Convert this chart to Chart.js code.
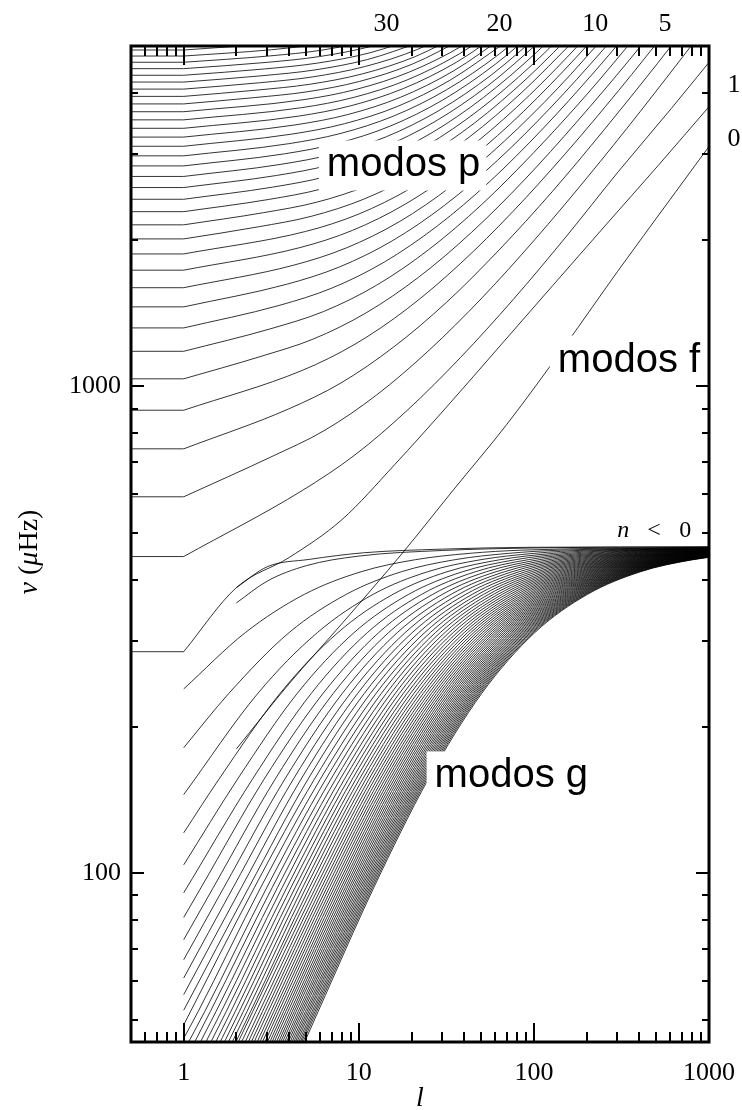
<!DOCTYPE html>
<html>
<head>
<meta charset="utf-8">
<script src="https://cdn.jsdelivr.net/npm/chart.js@4.4.1/dist/chart.umd.min.js"></script>
<style>
  html, body { margin: 0; padding: 0; background: #fff; }
  #wrap { position: relative; width: 742px; height: 1110px; }
</style>
</head>
<body>
<div id="wrap"><canvas id="modes"></canvas></div>
<script>
// eje x: grado l, eje y: frecuencia nu (microHz), ambos logaritmicos
const xMajorTicks = [1, 10, 100, 1000];
const xMinorTicks = [0.6, 0.7, 0.8, 0.9, 2, 3, 4, 5, 6, 7, 8, 9, 20, 30, 40, 50, 60, 70, 80, 90, 200, 300, 400, 500, 600, 700, 800, 900];
const yMajorTicks = [100, 1000];
const yMinorTicks = [50, 60, 70, 80, 90, 200, 300, 400, 500, 600, 700, 800, 900, 2000, 3000, 4000];
const xTickLabels = ["1", "10", "100", "1000"];
const yTickLabels = ["100", "1000"];

// modos p, n = 1 .. 34 : pares [l, nu] a lo largo de cada cresta
const pRidges = [
  [[0.5,285],[1,285],[2,386],[4,445],[8,532],[16,690],[32,910],[64,1210],[128,1610],[256,2140],[512,2840],[1024,3790]],
  [[0.5,447],[1,447],[4.76,611],[9.51,723],[19,894],[38,1145],[76.1,1507],[152,2025],[304,2762],[609,3720],[1217,5050]],
  [[0.5,593],[1,593],[3.15,716],[6.31,810],[12.6,959],[25.2,1186],[50.5,1519],[101,2000],[202,2687],[404,3664],[807,5050]],
  [[0.5,744],[1,744],[3.96,898],[7.91,1016],[15.8,1204],[31.7,1488],[63.3,1906],[127,2509],[253,3371],[506,4597],[1013,6336]],
  [[0.5,893],[1,893],[4.75,1078],[9.5,1220],[19,1445],[38,1786],[76,2287],[152,3011],[304,4046],[608,5518]],
  [[0.5,1036],[1,1036],[2.76,1152],[5.51,1251],[11,1415],[22,1676],[44.1,2072],[88.2,2654],[176,3494],[353,4694],[705,6401]],
  [[0.5,1180],[1,1180],[3.14,1313],[6.28,1424],[12.6,1612],[25.1,1909],[50.2,2360],[100,3023],[201,3979],[402,5347]],
  [[0.5,1318],[1,1318],[3.51,1466],[7.01,1591],[14,1800],[28,2133],[56.1,2636],[112,3376],[224,4445],[449,5972]],
  [[0.5,1456],[1,1456],[3.87,1620],[7.74,1758],[15.5,1989],[31,2356],[62,2912],[124,3730],[248,4910],[496,6597]],
  [[0.5,1594],[1,1594],[4.24,1773],[8.48,1924],[17,2177],[33.9,2579],[67.8,3188],[136,4083],[271,5375]],
  [[0.5,1732],[1,1732],[4.61,1927],[9.21,2091],[18.4,2366],[36.9,2802],[73.7,3464],[147,4437],[295,5841]],
  [[0.5,1870],[1,1870],[4.97,2080],[9.95,2257],[19.9,2554],[39.8,3026],[79.6,3740],[159,4790],[318,6306]],
  [[0.5,2008],[1,2008],[2.67,2126],[5.34,2234],[10.7,2424],[21.4,2743],[42.7,3249],[85.4,4016],[171,5144]],
  [[0.5,2146],[1,2146],[2.85,2273],[5.71,2387],[11.4,2590],[22.8,2931],[45.7,3472],[91.3,4292],[183,5497]],
  [[0.5,2284],[1,2284],[3.04,2419],[6.07,2541],[12.1,2757],[24.3,3120],[48.6,3696],[97.2,4568],[194,5851]],
  [[0.5,2422],[1,2422],[3.22,2565],[6.44,2694],[12.9,2924],[25.8,3308],[51.5,3919],[103,4844],[206,6204]],
  [[0.5,2560],[1,2560],[3.4,2711],[6.81,2848],[13.6,3090],[27.2,3497],[54.5,4142],[109,5120]],
  [[0.5,2698],[1,2698],[3.59,2857],[7.18,3001],[14.4,3257],[28.7,3685],[57.4,4365],[115,5396]],
  [[0.5,2836],[1,2836],[3.77,3003],[7.54,3155],[15.1,3423],[30.2,3874],[60.3,4589],[121,5672]],
  [[0.5,2974],[1,2974],[3.96,3149],[7.91,3308],[15.8,3590],[31.6,4062],[63.3,4812],[127,5948]],
  [[0.5,3112],[1,3112],[4.14,3296],[8.28,3462],[16.6,3756],[33.1,4251],[66.2,5035]],
  [[0.5,3250],[1,3250],[4.32,3442],[8.64,3615],[17.3,3923],[34.6,4440],[69.2,5259]],
  [[0.5,3388],[1,3388],[4.51,3588],[9.01,3769],[18,4090],[36,4628],[72.1,5482]],
  [[0.5,3526],[1,3526],[4.69,3734],[9.38,3922],[18.8,4256],[37.5,4817],[75,5705]],
  [[0.5,3664],[1,3664],[4.87,3880],[9.74,4076],[19.5,4423],[39,5005],[78,5928]],
  [[0.5,3802],[1,3802],[2.53,3917],[5.06,4026],[10.1,4229],[20.2,4589],[40.4,5194]],
  [[0.5,3940],[1,3940],[2.62,4059],[5.24,4172],[10.5,4383],[21,4756],[41.9,5382]],
  [[0.5,4078],[1,4078],[2.71,4202],[5.42,4319],[10.8,4536],[21.7,4923],[43.4,5571]],
  [[0.5,4216],[1,4216],[2.8,4344],[5.61,4465],[11.2,4690],[22.4,5089]],
  [[0.5,4354],[1,4354],[2.9,4486],[5.79,4611],[11.6,4843],[23.2,5256]],
  [[0.5,4492],[1,4492],[2.99,4628],[5.97,4757],[11.9,4997],[23.9,5422]],
  [[0.5,4630],[1,4630],[3.08,4770],[6.16,4903],[12.3,5150]],
  [[0.5,4768],[1,4768],[3.17,4912],[6.34,5049]],
  [[0.5,4906],[1,4906],[3.26,5055]]
];

// modo f (n = 0)
const fRidge = [[2,180],[4,245],[8.1,327],[17.8,455],[35,615],[70,835],[150,1210],[300,1720],[600,2420],[1000,3109]];

// crestas g superiores, mezcladas con p1 cerca de l = 2
const gTopRidge = [[2,386],[3,426],[5.2,441],[10.6,455],[30,463],[95,467],[1000,468]];
const gSecondRidge = [[2,359],[3,398],[5,428],[10,448],[30,460],[100,465.5],[1000,467.8]];

// modos g: nu en l = 1 y el l donde cada cresta corta cada nivel de nu
const gLevels = [27.5, 52, 93.6, 156, 234, 312, 374, 416, 440.5, 453.8, 460.8, 467.5];
const gStart = [239, 181, 145, 121, 104, 91.1, 81.1, 73, 66.4, 60.9, 56.3, 52.3, 48.8, 45.8, 43.1, 40.7,
  38.6, 36.6, 34.9, 33.3, 31.9, 30.5, 29.3, 28.2, 27.2, 26.2, 25.3, 24.5, 23.7, 22.9, 22.2, 21.6,
  21, 20.4, 19.8, 19.3, 18.8, 18.35, 17.9, 17.5, 17.1, 16.7, 16.3, 15.96, 15.6, 15.3, 15, 14.7,
  14.4, 14.1, 13.9, 13.6, 13.35, 13.1, 12.9, 12.66];
const gCross = [
  [null,null,null,null,null,2.25,4.9,10.3,21.1,42.7,85.9,1382],
  [null,null,null,null,1.81,4,8.5,17.5,35.5,71.5,143.5,2304],
  [null,null,null,null,2.65,5.8,12.1,24.7,49.9,100.3,201.1,3226],
  [null,null,null,1.59,3.55,7.6,15.7,31.9,64.3,129.1,258.7,4147],
  [null,null,null,2.03,4.45,9.4,19.3,39.1,78.7,157.9,316.3,5069],
  [null,null,null,2.47,5.35,11.2,22.9,46.3,93.1,186.7,373.9,5990],
  [null,null,1.26,2.88,6.25,13,26.5,53.5,107.5,215.5,431.5,6912],
  [null,null,1.48,3.33,7.15,14.8,30.1,60.7,121.9,244.3,489.1,7834],
  [null,null,1.7,3.78,8.05,16.6,33.7,67.9,136.3,273.1,546.7,8755],
  [null,null,1.92,4.23,8.95,18.4,37.3,75.1,150.7,301.9,604.3,9677],
  [null,null,2.14,4.68,9.85,20.2,40.9,82.3,165.1,330.7,661.9,10598],
  [null,null,2.36,5.13,10.75,22,44.5,89.5,179.5,359.5,719.5,11520],
  [null,null,2.54,5.58,11.65,23.8,48.1,96.7,193.9,388.3,777.1,12442],
  [null,1.21,2.76,6.03,12.55,25.6,51.7,103.9,208.3,417.1,834.7,13363],
  [null,1.32,2.99,6.48,13.45,27.4,55.3,111.1,222.7,445.9,892.3,14285],
  [null,1.42,3.21,6.93,14.35,29.2,58.9,118.3,237.1,474.7,949.9,15206],
  [null,1.53,3.44,7.38,15.25,31,62.5,125.5,251.5,503.5,1007.5,null],
  [null,1.64,3.66,7.83,16.15,32.8,66.1,132.7,265.9,532.3,1065,null],
  [null,1.75,3.89,8.28,17.05,34.6,69.7,139.9,280.3,561.1,1123,null],
  [null,1.86,4.11,8.73,17.95,36.4,73.3,147.1,294.7,589.9,1181,null],
  [null,1.97,4.34,9.18,18.85,38.2,76.9,154.3,309.1,618.7,1238,null],
  [null,2.08,4.56,9.63,19.75,40,80.5,161.5,323.5,647.5,1296,null],
  [null,2.19,4.79,10.08,20.65,41.8,84.1,168.7,337.9,676.3,1354,null],
  [null,2.3,5.01,10.53,21.55,43.6,87.7,175.9,352.3,705.1,1411,null],
  [null,2.41,5.24,10.98,22.45,45.4,91.3,183.1,366.7,733.9,1469,null],
  [null,2.48,5.46,11.43,23.35,47.2,94.9,190.3,381.1,762.7,1526,null],
  [null,2.59,5.69,11.88,24.25,49,98.5,197.5,395.5,791.5,1584,null],
  [1.18,2.71,5.91,12.33,25.15,50.8,102.1,204.7,409.9,820.3,1642,null],
  [1.23,2.82,6.14,12.78,26.05,52.6,105.7,211.9,424.3,849.1,1699,null],
  [1.29,2.93,6.36,13.23,26.95,54.4,109.3,219.1,438.7,877.9,1757,null],
  [1.34,3.04,6.59,13.68,27.85,56.2,112.9,226.3,453.1,906.7,1814,null],
  [1.4,3.16,6.81,14.13,28.75,58,116.5,233.5,467.5,935.5,1872,null],
  [1.45,3.27,7.04,14.58,29.65,59.8,120.1,240.7,481.9,964.3,1930,null],
  [1.51,3.38,7.26,15.03,30.55,61.6,123.7,247.9,496.3,993.1,1987,null],
  [1.56,3.49,7.49,15.48,31.45,63.4,127.3,255.1,510.7,1022,null,null],
  [1.61,3.61,7.71,15.93,32.35,65.2,130.9,262.3,525.1,1051,null,null],
  [1.67,3.72,7.94,16.38,33.25,67,134.5,269.5,539.5,1080,null,null],
  [1.72,3.83,8.16,16.83,34.15,68.8,138.1,276.7,553.9,1109,null,null],
  [1.78,3.94,8.39,17.28,35.05,70.6,141.7,283.9,568.3,1138,null,null],
  [1.83,4.06,8.61,17.73,35.95,72.4,145.3,291.1,582.7,1166,null,null],
  [1.89,4.17,8.84,18.18,36.85,74.2,148.9,298.3,597.1,1195,null,null],
  [1.94,4.28,9.06,18.63,37.75,76,152.5,305.5,611.5,1224,null,null],
  [2,4.39,9.29,19.08,38.65,77.8,156.1,312.7,625.9,1253,null,null],
  [2.05,4.51,9.51,19.53,39.55,79.6,159.7,319.9,640.3,1282,null,null],
  [2.11,4.62,9.74,19.98,40.45,81.4,163.3,327.1,654.7,1310,null,null],
  [2.16,4.73,9.96,20.43,41.35,83.2,166.9,334.3,669.1,1339,null,null],
  [2.22,4.84,10.19,20.88,42.25,85,170.5,341.5,683.5,1368,null,null],
  [2.27,4.96,10.41,21.33,43.15,86.8,174.1,348.7,697.9,1397,null,null],
  [2.33,5.07,10.64,21.78,44.05,88.6,177.7,355.9,712.3,1426,null,null],
  [2.38,5.18,10.86,22.23,44.95,90.4,181.3,363.1,726.7,1454,null,null],
  [2.44,5.29,11.09,22.68,45.85,92.2,184.9,370.3,741.1,1483,null,null],
  [2.49,5.41,11.31,23.13,46.75,94,188.5,377.5,755.5,1512,null,null],
  [2.55,5.52,11.54,23.58,47.65,95.8,192.1,384.7,769.9,1541,null,null],
  [2.57,5.63,11.76,24.03,48.55,97.6,195.7,391.9,784.3,1570,null,null],
  [2.62,5.74,11.99,24.48,49.45,99.4,199.3,399.1,798.7,1598,null,null],
  [2.68,5.86,12.21,24.93,50.35,101.2,202.9,406.3,813.1,1627,null,null]
];

// rotulos de orden n en el borde superior (en l) y derecho (en nu)
const topOrderLabels = ["30", "20", "10", "5"];
const topOrderAt = [14.4, 63.6, 224, 561];
const rightOrderLabels = ["1", "0"];
const rightOrderAt = [4150, 3214];

const serif = '"Liberation Serif", "DejaVu Serif", serif';
const sans = '"Liberation Sans", Arial, sans-serif';

function ridge(points, smooth) {
  return {
    data: points.map((p) => ({ x: p[0], y: p[1] })),
    borderColor: "#000",
    borderWidth: 0.8,
    pointRadius: 0,
    fill: false,
    tension: 0,
    cubicInterpolationMode: smooth ? "monotone" : "default",
  };
}

const datasets = [];
pRidges.forEach((r) => {
  // tramo plano hasta l = 1, luego la cresta
  datasets.push(ridge(r.filter((p) => p[0] <= 1), false));
  datasets.push(ridge(r.filter((p) => p[0] >= 1), true));
});
datasets.push(ridge(fRidge, true));
datasets.push(ridge(gTopRidge, true));
datasets.push(ridge(gSecondRidge, true));
gStart.forEach((nu1, i) => {
  const pts = [[1, nu1]];
  gCross[i].forEach((l, k) => {
    if (l !== null) pts.push([l, gLevels[k]]);
  });
  datasets.push(ridge(pts, true));
});

// texto con segmentos de distinto estilo
function richText(ctx, parts, x, y) {
  let w = 0;
  parts.forEach((p) => { ctx.font = p[1]; w += ctx.measureText(p[0]).width; });
  let cx = x - w / 2;
  ctx.textAlign = "left";
  parts.forEach((p) => {
    ctx.font = p[1];
    ctx.fillText(p[0], cx, y);
    cx += ctx.measureText(p[0]).width;
  });
}

function boxedLabel(ctx, text, px, py) {
  ctx.font = "40px " + sans;
  const w = ctx.measureText(text).width;
  ctx.fillStyle = "#fff";
  ctx.fillRect(px - 8, py - 36, w + 14, 50);
  ctx.fillStyle = "#000";
  ctx.textAlign = "left";
  ctx.textBaseline = "alphabetic";
  ctx.fillText(text, px, py);
}

const annotations = {
  id: "annotations",
  afterDatasetsDraw(chart) {
    const { ctx, scales: { x, y } } = chart;
    ctx.save();
    boxedLabel(ctx, "modos p", x.getPixelForValue(6.57), y.getPixelForValue(2698));
    boxedLabel(ctx, "modos f", x.getPixelForValue(137), y.getPixelForValue(1072));
    boxedLabel(ctx, "modos g", x.getPixelForValue(27.1), y.getPixelForValue(150));
    ctx.fillStyle = "#000";
    ctx.textBaseline = "alphabetic";
    const nx = x.getPixelForValue(299), ny = y.getPixelForValue(491);
    ctx.font = "italic 24px " + serif;
    ctx.textAlign = "left";
    ctx.fillText("n", nx, ny);
    ctx.font = "24px " + serif;
    ctx.fillText("<", nx + 30, ny);
    ctx.fillText("0", nx + 62, ny);
    ctx.restore();
  },
};

const frame = {
  id: "frame",
  afterDraw(chart) {
    const { ctx, chartArea: a, scales: { x, y } } = chart;
    ctx.save();
    ctx.strokeStyle = "#000";
    ctx.lineWidth = 2;
    ctx.beginPath();
    xMajorTicks.concat(xMinorTicks).forEach((v) => {
      const px = Math.round(x.getPixelForValue(v));
      const len = xMajorTicks.includes(v) ? 19 : 10;
      ctx.moveTo(px, a.bottom); ctx.lineTo(px, a.bottom - len);
      ctx.moveTo(px, a.top); ctx.lineTo(px, a.top + len);
    });
    yMajorTicks.concat(yMinorTicks).forEach((v) => {
      const py = Math.round(y.getPixelForValue(v));
      const len = yMajorTicks.includes(v) ? 13 : 7;
      ctx.moveTo(a.left, py); ctx.lineTo(a.left + len, py);
      ctx.moveTo(a.right, py); ctx.lineTo(a.right - len, py);
    });
    ctx.stroke();
    ctx.lineWidth = 3;
    ctx.strokeRect(a.left, a.top, a.right - a.left, a.bottom - a.top);

    ctx.fillStyle = "#000";
    ctx.font = "26px " + serif;
    ctx.textBaseline = "alphabetic";
    ctx.textAlign = "center";
    xMajorTicks.forEach((v, i) => ctx.fillText(xTickLabels[i], x.getPixelForValue(v), 1080));
    ctx.textAlign = "right";
    ctx.textBaseline = "middle";
    yMajorTicks.forEach((v, i) => ctx.fillText(yTickLabels[i], 121, y.getPixelForValue(v)));
    ctx.textAlign = "center";
    topOrderLabels.forEach((t, i) => ctx.fillText(t, x.getPixelForValue(topOrderAt[i]), 24));
    rightOrderLabels.forEach((t, i) => ctx.fillText(t, 734, y.getPixelForValue(rightOrderAt[i])));

    ctx.textBaseline = "alphabetic";
    ctx.font = "italic 28px " + serif;
    ctx.fillText("l", (a.left + a.right) / 2, 1106);

    ctx.translate(37, (a.top + a.bottom) / 2 + 8);
    ctx.rotate(-Math.PI / 2);
    richText(ctx, [
      ["\u03bd", "italic 28px " + serif],
      [" (", "28px " + serif],
      ["\u03bc", "italic 28px " + serif],
      ["Hz)", "28px " + serif],
    ], 0, 0);
    ctx.restore();
  },
};

new Chart(document.getElementById("modes"), {
  type: "line",
  data: { datasets: datasets },
  options: {
    responsive: true,
    maintainAspectRatio: false,
    animation: false,
    events: [],
    layout: { padding: { left: 131, right: 33, top: 46, bottom: 68 } },
    plugins: { legend: { display: false }, tooltip: { enabled: false } },
    scales: {
      x: { type: "logarithmic", min: 0.5, max: 1000, display: false },
      y: { type: "logarithmic", min: 45, max: 5000, display: false },
    },
  },
  plugins: [annotations, frame],
});
</script>
</body>
</html>
